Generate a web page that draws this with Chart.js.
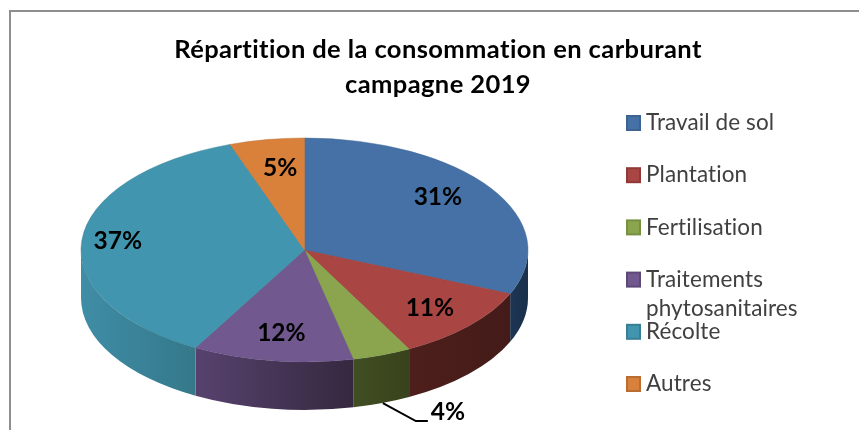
<!DOCTYPE html>
<html>
<head>
<meta charset="utf-8">
<title>Répartition de la consommation en carburant</title>
<script src="https://cdn.jsdelivr.net/npm/chart.js"></script>
<style>
  * { margin: 0; padding: 0; box-sizing: border-box; }
  body { background: #fff; width: 859px; height: 430px; overflow: hidden; position: relative; }
  canvas { display: block; }
  #frame { position: absolute; left: 9px; top: 10px; width: 860px; height: 430px; border: 2px solid #8e8e8e; }
</style>
</head>
<body>
<canvas id="chart" width="859" height="430"></canvas>
<div id="frame"></div>
<script>
const titleLines = ['Répartition de la consommation en carburant', 'campagne 2019'];
const categories = [['Travail de sol'], ['Plantation'], ['Fertilisation'], ['Traitements', 'phytosanitaires'], ['Récolte'], ['Autres']];
const values = [31.4, 10.85, 4.25, 11.6, 36.5, 5.4];
const topColors = ['#4671a6', '#a94543', '#8aa54e', '#71588f', '#4195ae', '#d9813b'];
const edgeColors = ['#3d6391', '#8f3a38', '#75903f', '#5d4878', '#377f95', '#b96d30'];
const wallLeft = ['#1d3654', '#4e1f1c', '#414d22', '#57426e', '#3f8da6', '#8a5526'];
const wallRight = ['#1a304b', '#431b18', '#38431d', '#35283f', '#35788a', '#8a5526'];
// the labels are not on one radius in the original
const labelNudgeX = [-12, -3, 0, 2, -13, 5];
const labelNudgeY = [-5, -1, 0, -3, -2, 4];

const radiusX = 223.5;
const radiusY = 112;
const depth = 48;
const fontName = 'Lato, "Open Sans", sans-serif';

function project(arc, angle, frac) {
  return { x: arc.x + Math.cos(angle) * radiusX * frac, y: arc.y + Math.sin(angle) * radiusY * frac };
}

const pie3d = {
  id: 'pie3d',
  // side wall, only the front half of the ellipse shows
  beforeDatasetsDraw(chart) {
    const ctx = chart.ctx;
    chart.getDatasetMeta(0).data.forEach((arc, i) => {
      const from = Math.max(arc.startAngle, 0);
      const to = Math.min(arc.endAngle, Math.PI);
      if (to <= from) return;
      const grad = ctx.createLinearGradient(arc.x + Math.cos(to) * radiusX, 0, arc.x + Math.cos(from) * radiusX, 0);
      grad.addColorStop(0, wallLeft[i]);
      grad.addColorStop(1, wallRight[i]);
      ctx.beginPath();
      ctx.ellipse(arc.x, arc.y, radiusX, radiusY, 0, from, to);
      ctx.ellipse(arc.x, arc.y + depth, radiusX, radiusY, 0, to, from, true);
      ctx.closePath();
      ctx.fillStyle = grad;
      ctx.fill();
    });
  },
  // squash the round pie into the ellipse
  beforeDatasetDraw(chart) {
    const arc = chart.getDatasetMeta(0).data[0];
    const ctx = chart.ctx;
    ctx.save();
    ctx.translate(arc.x, arc.y);
    ctx.scale(1, radiusY / radiusX);
    ctx.translate(-arc.x, -arc.y);
  },
  afterDatasetDraw(chart) {
    chart.ctx.restore();
  },
  afterDraw(chart) {
    const ctx = chart.ctx;
    ctx.textBaseline = 'middle';

    // title
    ctx.textAlign = 'center';
    ctx.fillStyle = '#000';
    ctx.letterSpacing = '0.4px';
    ctx.font = 'bold 25.5px ' + fontName;
    titleLines.forEach((line, i) => ctx.fillText(line, 438, 50 + i * 35));

    // value labels
    ctx.letterSpacing = '0px';
    ctx.font = 'bold 24.5px ' + fontName;
    chart.getDatasetMeta(0).data.forEach((arc, i) => {
      const mid = (arc.startAngle + arc.endAngle) / 2;
      const text = Math.round(values[i]) + '%';
      if (values[i] < 5) {
        // small slice: label outside with a leader line
        const rim = project(arc, mid, 1);
        const startY = rim.y + depth;
        ctx.beginPath();
        ctx.moveTo(rim.x + 1, startY);
        ctx.lineTo(rim.x + 34, startY + 18);
        ctx.lineTo(rim.x + 46, startY + 18);
        ctx.strokeStyle = '#000';
        ctx.lineWidth = 2;
        ctx.stroke();
        ctx.textAlign = 'left';
        ctx.fillText(text, rim.x + 49, startY + 9);
      } else {
        const p = project(arc, mid, 0.78);
        ctx.textAlign = 'center';
        ctx.fillText(text, p.x + labelNudgeX[i], p.y + labelNudgeY[i]);
      }
    });

    // legend, fixed row height even for the wrapped entry
    ctx.textAlign = 'left';
    ctx.letterSpacing = '0.1px';
    ctx.font = '22.5px ' + fontName;
    categories.forEach((lines, i) => {
      const y = 123 + i * 52.2;
      ctx.fillStyle = topColors[i];
      ctx.strokeStyle = edgeColors[i];
      ctx.lineWidth = 2;
      ctx.fillRect(626, y - 7, 14, 14);
      ctx.strokeRect(627, y - 7, 13, 14);
      ctx.fillStyle = '#404040';
      lines.forEach((line, k) => ctx.fillText(line, 646, y + k * 29));
    });
  }
};

new Chart(document.getElementById('chart'), {
  type: 'pie',
  plugins: [pie3d],
  data: {
    labels: categories.map(c => c.join(' ')),
    datasets: [{
      data: values,
      backgroundColor: topColors,
      borderColor: edgeColors,
      borderWidth: 0.6,
      radius: radiusX,
      clip: false
    }]
  },
  options: {
    responsive: false,
    animation: false,
    layout: { padding: { left: 0, right: 250, top: 70, bottom: 0 } },
    plugins: { legend: { display: false }, title: { display: false }, tooltip: { enabled: false } }
  }
});
</script>
</body>
</html>
